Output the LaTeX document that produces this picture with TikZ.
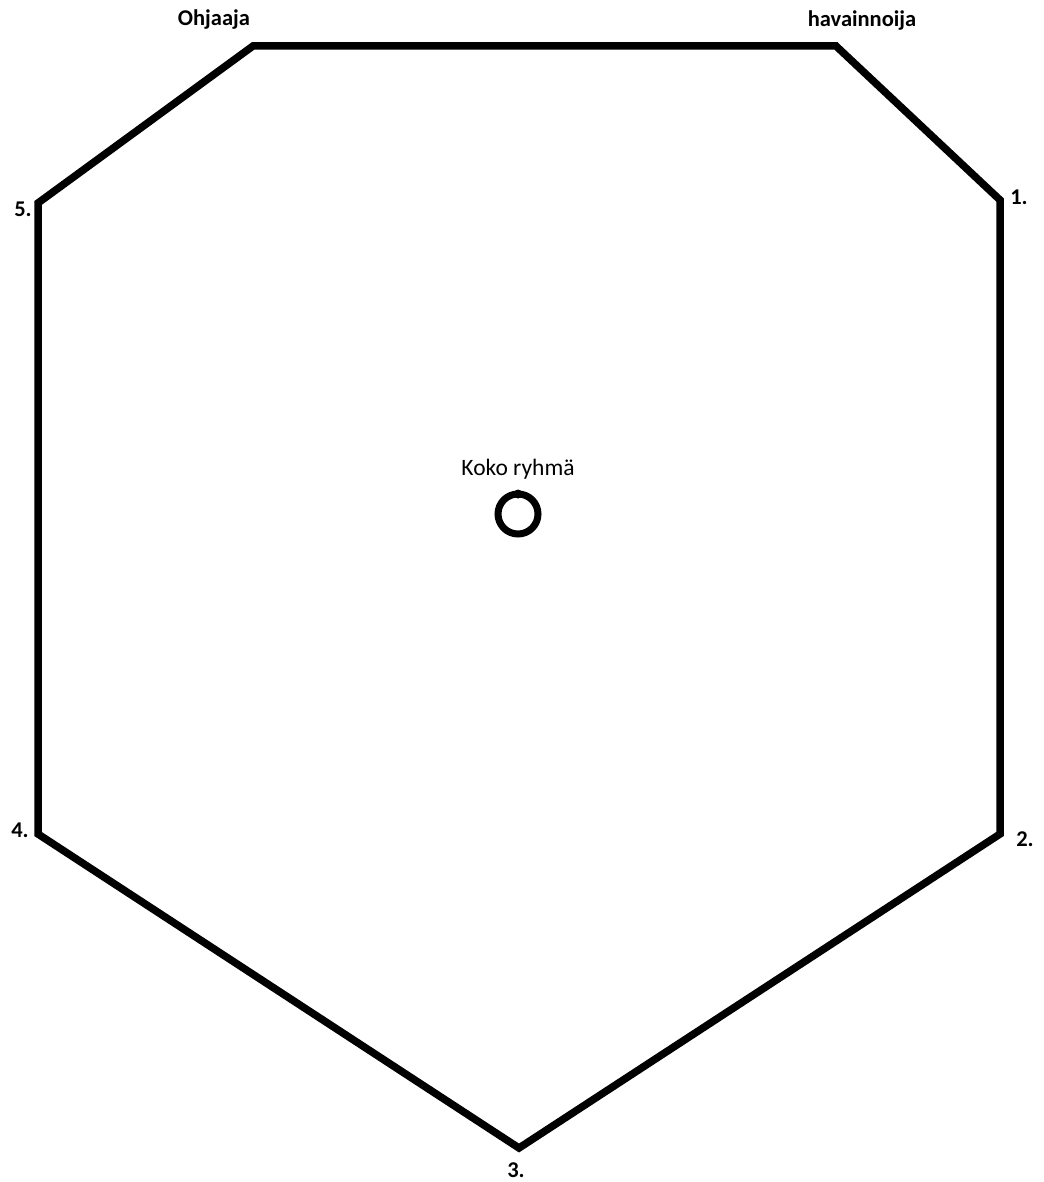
\documentclass[tikz,border=0pt]{standalone}
\usepackage{fontspec}
\setmainfont{Carlito}
\begin{document}
\begin{tikzpicture}[x=1pt,y=-1pt,
  edge/.style={line width=7.5pt},
  lbl/.style={font=\fontsize{22.5}{26}\selectfont\bfseries, inner sep=0pt},
  plain/.style={font=\fontsize{23.5}{27}\selectfont, inner sep=0pt}]
\useasboundingbox (0,0) rectangle (1043,1182);
\coordinate (tl) at (253,46);
\coordinate (tr) at (836,46);
\coordinate (p1) at (1000,200);
\coordinate (p2) at (1000,834);
\coordinate (p3) at (519,1148);
\coordinate (p4) at (38,834);
\coordinate (p5) at (38,203);
\draw[edge] (tl) -- (tr) -- (p1) -- (p2) -- (p3) -- (p4) -- (p5) -- cycle;
\node[lbl] (ohj) at (214,20) {Ohjaaja};
\node[lbl] (hav) at (862,21) {havainnoija};
\node[lbl] (n1) at (1019,197) {1.};
\node[lbl] (n2) at (1025,839) {2.};
\node[lbl] (n3) at (516,1170) {3.};
\node[lbl] (n4) at (20,830) {4.};
\node[lbl] (n5) at (23,209) {5.};
\node[plain] (koko) at (518,469) {Koko ryhmä};
\node[draw, circle, line width=7pt, minimum size=40pt, inner sep=0pt] (c) at (518,514) {};
\fill (518,494) circle (4.5pt);
\end{tikzpicture}
\end{document}
